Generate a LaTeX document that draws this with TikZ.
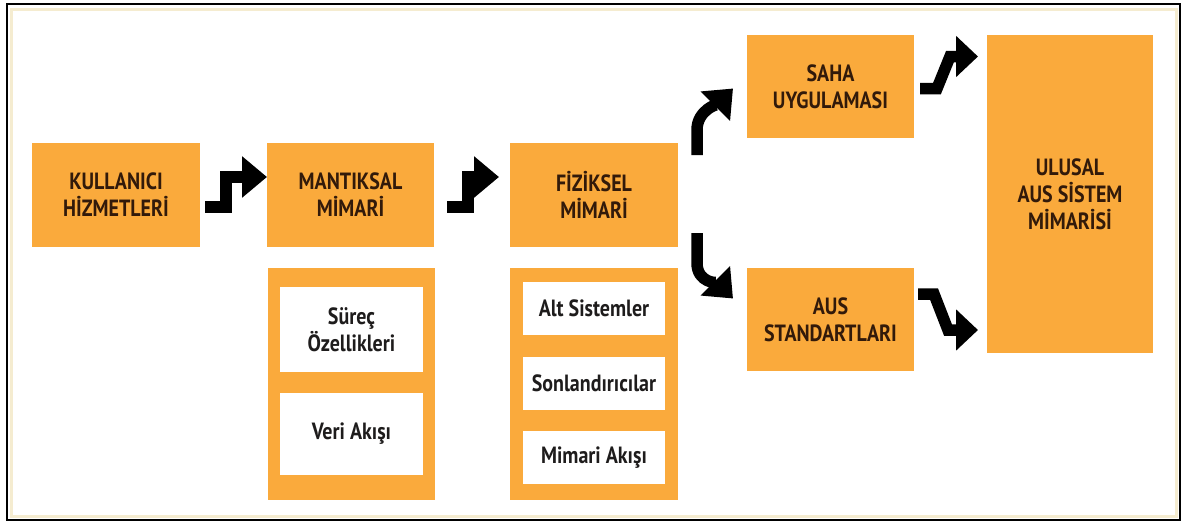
\documentclass[tikz,border=0pt]{standalone}
\usepackage{fontspec}
\setmainfont{PT Sans}[FakeStretch=0.85]
\usetikzlibrary{arrows.meta,calc}
\definecolor{boxorange}{RGB}{250,170,60}
\definecolor{labelbrown}{RGB}{50,26,10}
\definecolor{framebeige}{RGB}{245,236,208}
\definecolor{inktext}{RGB}{30,28,28}

\begin{document}
\begin{tikzpicture}[x=1pt,y=-1pt,
  every node/.style={inner sep=0pt, outer sep=0pt, align=center,
    font=\fontsize{23.5}{27}\selectfont\bfseries},
  stage/.style={fill=boxorange, text=labelbrown},
  panel/.style={fill=boxorange},
  item/.style={fill=white, text=inktext},
  zz/.style={line width=11.5pt, line join=miter,
    -{Triangle[length=25pt,width=40pt]}},
  zs/.style={line width=11.5pt, line join=miter,
    -{Triangle[length=22pt,width=40pt]}},
]
% canvas and frame
\useasboundingbox (0,0) rectangle (1184,522);
\fill[white] (0,0) rectangle (1184,522);
\draw[framebeige, line width=3pt] (11,9) rectangle (1176,516);
\draw[black, line width=2pt] (7,4) rectangle (1180,520);

% main stages
\node[stage, minimum width=168pt, minimum height=104pt] (k) at (116,195) {KULLANICI\\HİZMETLERİ};
\node[stage, minimum width=167pt, minimum height=104pt] (m) at (350.5,195) {MANTIKSAL\\MİMARİ};
\node[stage, minimum width=168pt, minimum height=104pt] (f) at (594,195) {FİZİKSEL\\MİMARİ};
\node[stage, minimum width=167pt, minimum height=103pt] (s) at (830.5,86.5) {SAHA\\UYGULAMASI};
\node[stage, minimum width=167pt, minimum height=103pt] (a) at (830.5,319.5) {AUS\\STANDARTLARI};
\node[stage, minimum width=166pt, minimum height=318pt] (u) at (1070,194) {ULUSAL\\AUS SİSTEM\\MİMARİSİ};

% logical architecture details
\node[panel, minimum width=167pt, minimum height=232pt] (p1) at (351.5,384) {};
\node[item, minimum width=143pt, minimum height=85pt] (c1) at (351.5,329.5) {Süreç\\Özellikleri};
\node[item, minimum width=143pt, minimum height=82pt] (c2) at (351.5,434) {Veri Akışı};

% physical architecture details
\node[panel, minimum width=168pt, minimum height=232pt] (p2) at (594,384) {};
\node[item, minimum width=142pt, minimum height=53pt] (d1) at (594,308.5) {Alt Sistemler};
\node[item, minimum width=142pt, minimum height=53pt] (d2) at (594,383.5) {Sonlandırıcılar};
\node[item, minimum width=142pt, minimum height=53pt] (d3) at (594,457.5) {Mimari Akışı};

% step arrows
\draw[zz] ($(k.east)+(5,12)$) -- ++(21,0) -- ++(0,-30) -- ($(m.west)+(0,-18)$);
\draw[zz] ($(m.east)+(13,12)$) -- ++(21,0) -- ++(0,-30) -- ($(f.west)+(-11,-18)$);

% curved arrows out of the physical architecture
\draw[zz] ($(f.east)+(19,-40)$) -- ++(0,-25)
  .. controls +(0,-20) and +(-15,15) .. ($(s.west)+(-14,2)$);
\draw[zz] ($(f.east)+(19,38)$) -- ++(0,30)
  .. controls +(0,20) and +(-15,-15) .. ($(a.west)+(-14,-21)$);

% arrows into the national architecture
\draw[zs] ($(s.east)+(6,2)$) -- ++(17,0) -- ++(13,-32) -- ++(28,0);
\draw[zs] ($(a.east)+(4,-25.5)$) -- ++(16,0) -- ++(14,36) -- ++(30,0);
\end{tikzpicture}
\end{document}
